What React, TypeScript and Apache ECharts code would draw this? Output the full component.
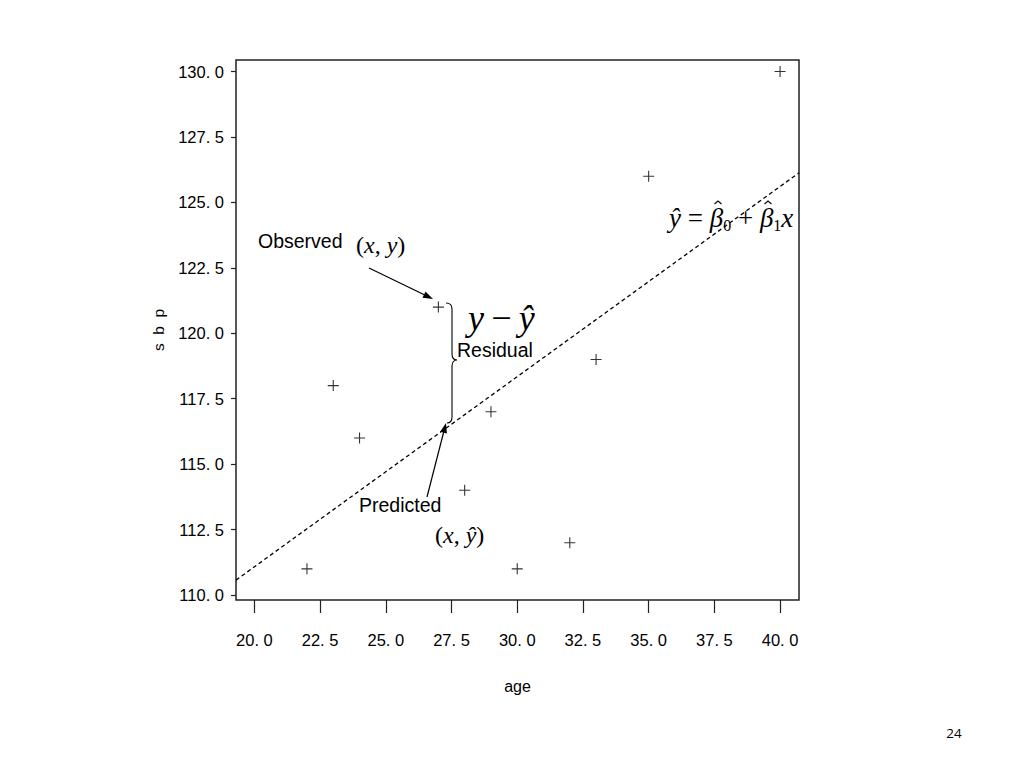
import React, { useEffect, useRef } from "react";
import * as echarts from "echarts";

// Observed data (age, sbp)
const ages = [40, 35, 27, 33, 23, 29, 24, 28, 32, 22, 30];
const sbp = [130, 126, 121, 119, 118, 117, 116, 114, 112, 111, 111];

// Fitted line, read at the plot's left and right edges
const fitX = [19.3, 40.72];
const fitY = [110.57, 126.13];

// Tick values
const xTicks = [20, 22.5, 25, 27.5, 30, 32.5, 35, 37.5, 40];
const yTicks = [110, 112.5, 115, 117.5, 120, 122.5, 125, 127.5, 130];

const fmt = (v: number) => v.toFixed(1).replace(".", ". ");

const SANS = "Liberation Sans, Arial, sans-serif";
const SERIF = "Liberation Serif, Times New Roman, serif";

const BRACE_D =
  "M0,0 C4,0 6,2 6,6 L6,51 C6,55 8,57 11,57 C8,57 6,59 6,63 L6,114 C6,118 4,120 1,120";

let braceRegistered = false;

function arrow(x1: number, y1: number, x2: number, y2: number) {
  const dx = x2 - x1;
  const dy = y2 - y1;
  const L = Math.hypot(dx, dy);
  const ux = dx / L;
  const uy = dy / L;
  const hl = 10;
  const hw = 3.5;
  const bx = x2 - ux * hl;
  const by = y2 - uy * hl;
  return [
    {
      type: "line",
      shape: { x1, y1, x2: bx + ux * 2, y2: by + uy * 2 },
      style: { stroke: "#000", lineWidth: 1.2 },
    },
    {
      type: "polygon",
      shape: {
        points: [
          [x2, y2],
          [bx - uy * hw, by + ux * hw],
          [bx + uy * hw, by - ux * hw],
        ],
      },
      style: { fill: "#000" },
    },
  ];
}

function hat(cx: number, cy: number) {
  return {
    type: "polyline",
    shape: { points: [[cx - 3.5, cy + 3], [cx, cy], [cx + 3.5, cy + 3]] },
    style: { stroke: "#000", lineWidth: 1.1, fill: "none" },
  };
}

function txt(x: number, y: number, text: string, style: any, align = "left") {
  return {
    type: "text",
    x,
    y,
    style: {
      text,
      fill: "#000",
      align,
      verticalAlign: "middle",
      textAlign: align,
      textVerticalAlign: "middle",
      ...style,
    },
  };
}

export default function App() {
  const ref = useRef<HTMLDivElement>(null);

  useEffect(() => {
    if (!ref.current) return;
    if (!braceRegistered) {
      echarts.graphic.registerShape("brace", echarts.graphic.extendPath(BRACE_D, {}));
      braceRegistered = true;
    }
    const chart = echarts.init(ref.current, undefined, { renderer: "svg" });

    const mathRich = {
      i: { fontFamily: SERIF, fontStyle: "italic", fontSize: 24 },
      n: { fontFamily: SERIF, fontSize: 24 },
    };

    chart.setOption({
      animation: false,
      backgroundColor: "#fff",
      grid: {
        left: 236,
        top: 60,
        width: 563,
        height: 540,
        show: true,
        borderColor: "#222",
        borderWidth: 1.5,
        backgroundColor: "transparent",
      },
      xAxis: {
        type: "value",
        min: 19.3,
        max: 40.72,
        name: "age",
        nameLocation: "middle",
        nameGap: 78,
        nameTextStyle: { fontFamily: SANS, fontSize: 16, color: "#000" },
        axisLine: { show: false },
        splitLine: { show: false },
        axisTick: {
          show: true,
          length: 13,
          customValues: xTicks,
          lineStyle: { color: "#222", width: 1.2 },
        },
        axisLabel: {
          customValues: xTicks,
          formatter: (v: number) => fmt(v),
          margin: 31,
          fontFamily: SANS,
          fontSize: 16.5,
          color: "#000",
        },
      },
      yAxis: {
        type: "value",
        min: 109.81,
        max: 130.44,
        name: "s  b  p",
        nameLocation: "middle",
        nameGap: 70,
        nameTextStyle: { fontFamily: SANS, fontSize: 15.5, color: "#000" },
        axisLine: { show: false },
        splitLine: { show: false },
        axisTick: {
          show: true,
          length: 5,
          customValues: yTicks,
          lineStyle: { color: "#222", width: 1.2 },
        },
        axisLabel: {
          customValues: yTicks,
          formatter: (v: number) => fmt(v),
          margin: 12,
          padding: [6, 0, 0, 0],
          fontFamily: SANS,
          fontSize: 16.5,
          color: "#000",
        },
      },
      series: [
        {
          type: "scatter",
          data: ages.map((a, i) => [a, sbp[i]]),
          symbol: "path://M4.5,0h1v4.5h4.5v1h-4.5v4.5h-1v-4.5h-4.5v-1h4.5z",
          symbolSize: 11,
          itemStyle: { color: "#000" },
          z: 3,
        },
        {
          type: "line",
          data: fitX.map((x, i) => [x, fitY[i]]),
          symbol: "none",
          lineStyle: { color: "#000", width: 1.3, type: [4, 3] },
          z: 2,
        },
      ],
      graphic: [
        txt(258, 241, "Observed", { fontFamily: SANS, fontSize: 19.5 }),
        txt(356, 245, "{n|(}{i|x}{n|, }{i|y}{n|)}", { rich: mathRich }),
        ...arrow(369, 268, 433, 299),
        {
          type: "brace",
          x: 446,
          y: 303,
          style: { stroke: "#000", fill: "none", lineWidth: 1.1 },
        },
        txt(468, 318, "{i|y}{n|\u2009−\u2009}{i|ŷ}", {
          rich: {
            i: { fontFamily: SERIF, fontStyle: "italic", fontSize: 36 },
            n: { fontFamily: SERIF, fontSize: 36 },
          },
        }),
        txt(457, 350, "Residual", { fontFamily: SANS, fontSize: 19.5 }),
        ...arrow(427, 497, 446, 423),
        txt(359, 505, "Predicted", { fontFamily: SANS, fontSize: 19.5 }),
        txt(435, 535, "{n|(}{i|x}{n|, }{i|ŷ}{n|)}", { rich: mathRich }),
        txt(
          669,
          218,
          "{i|ŷ}{n| = }{i|β}{s|0}{n| + }{i|β}{s|1}{i|x}",
          {
            rich: {
              i: { fontFamily: SERIF, fontStyle: "italic", fontSize: 27 },
              n: { fontFamily: SERIF, fontSize: 27 },
              s: { fontFamily: SERIF, fontSize: 16, verticalAlign: "bottom", padding: [15, 0, 0, 0] },
            },
          }
        ),
        hat(718, 201),
        hat(768, 201),
        txt(954, 733, "24", { fontFamily: "Open Sans, sans-serif", fontSize: 13.5 }, "center"),
      ],
    });

    return () => chart.dispose();
  }, []);

  return (
    <div
      ref={ref}
      style={{ position: "absolute", left: 0, top: 0, width: 1024, height: 768, background: "#fff" }}
    />
  );
}
